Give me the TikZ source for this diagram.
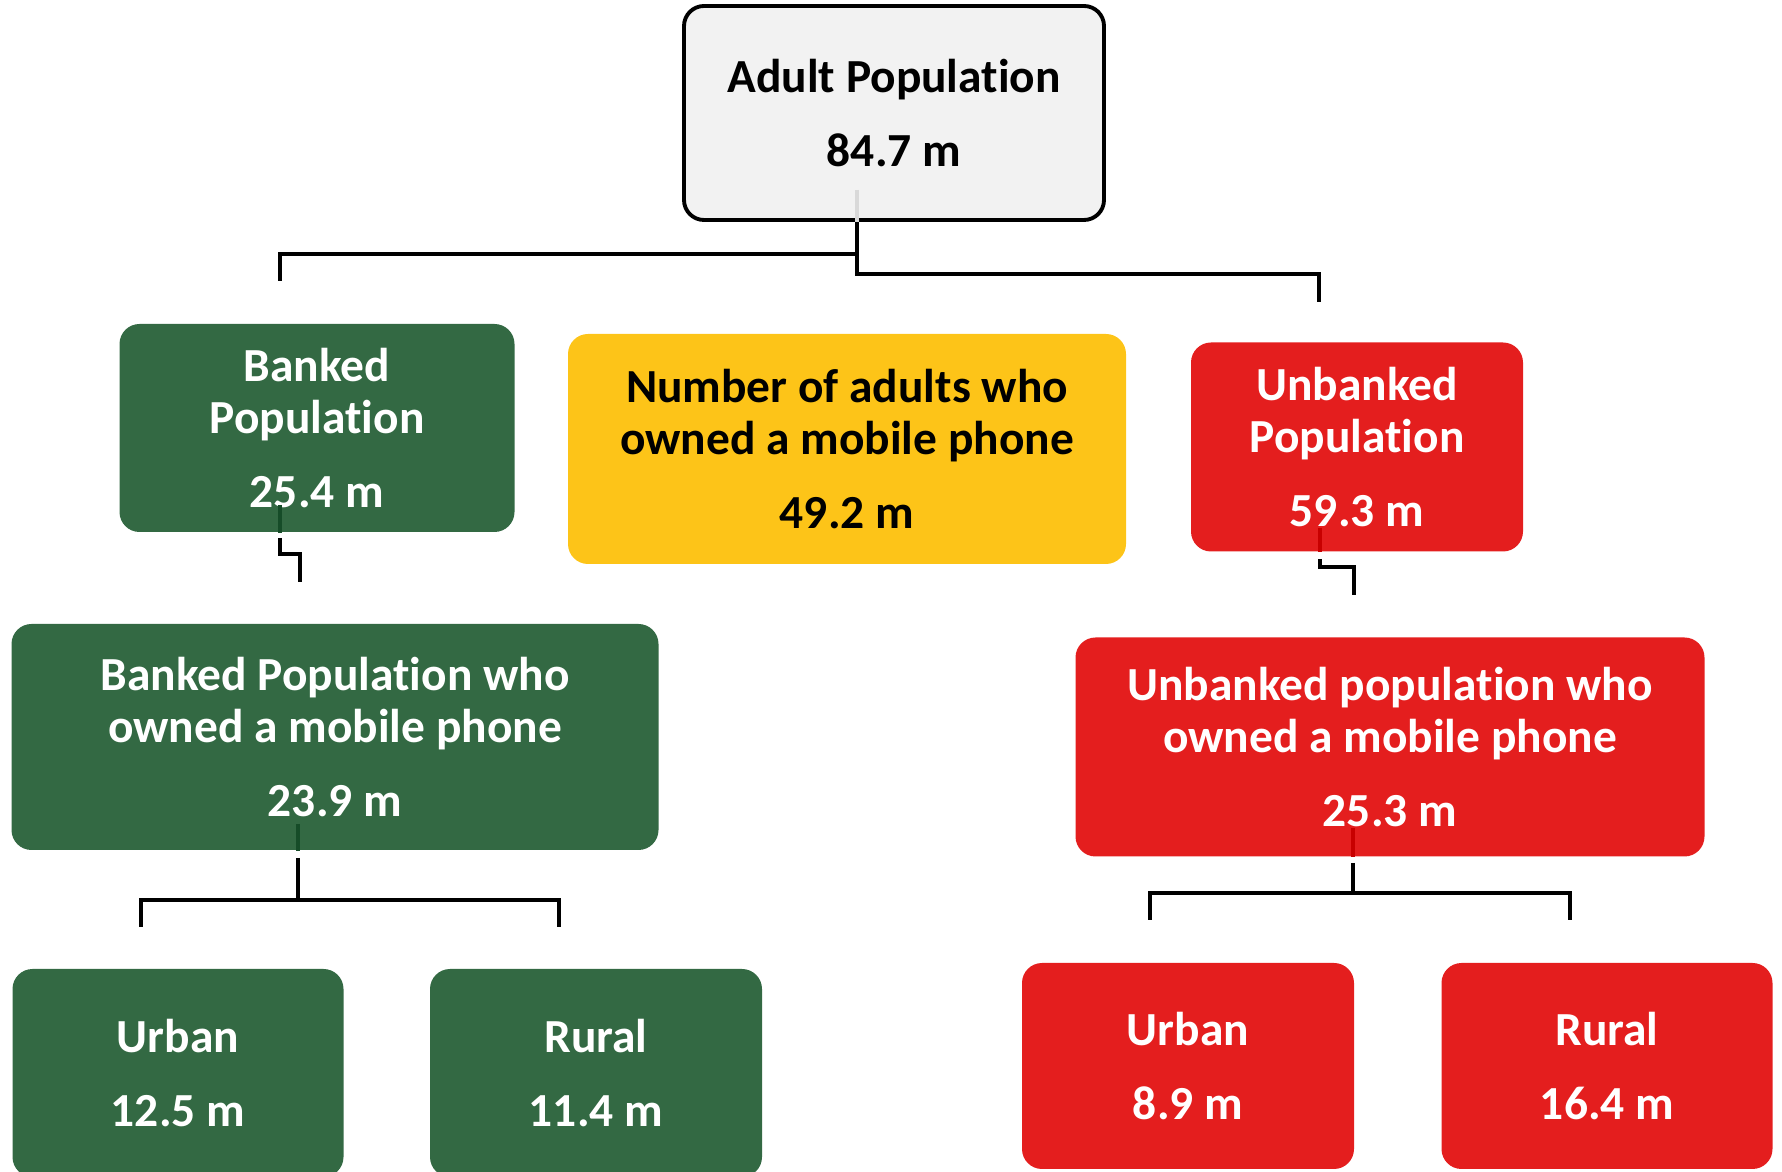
\documentclass[tikz,border=0pt]{standalone}
\usepackage{fontspec}
\setmainfont{Carlito}[Ligatures=NoCommon]
\usepackage{tikz}
\usetikzlibrary{positioning}
\definecolor{bankgreen}{RGB}{51,105,67}
\definecolor{bankgreend}{RGB}{22,76,40}
\definecolor{unbankred}{RGB}{228,30,30}
\definecolor{unbankredd}{RGB}{200,0,0}
\definecolor{phoneyellow}{RGB}{253,196,24}
\definecolor{topgrey}{RGB}{242,242,242}
\tikzset{
    box/.style = {rectangle, rounded corners=2mm, align=center,
                  font=\fontsize{13.5}{14.8}\selectfont\bfseries},
    topbox/.style = {box, draw=black, line width=1.1pt, fill=topgrey, text=black},
    greenbox/.style = {box, fill=bankgreen, text=white},
    redbox/.style = {box, fill=unbankred, text=white},
    yellowbox/.style = {box, fill=phoneyellow, text=black},
    link/.style = {line width=1.2pt, black},
    stub/.style = {line width=1.2pt}
}
\begin{document}
\begin{tikzpicture}[x=0.1mm, y=-0.1mm]
  \useasboundingbox (0,0) rectangle (1782,1172);

  % boxes
  \node[topbox, minimum width=42mm, minimum height=21.4mm] (adult) at (894,113)
    {Adult Population\\[6pt]84.7 m};
  \node[greenbox, minimum width=39.5mm, minimum height=20.8mm] (banked) at (317,428)
    {Banked\\Population\\[6pt]25.4 m};
  \node[yellowbox, minimum width=55.8mm, minimum height=23mm] (phone) at (847,449)
    {Number of adults who\\owned a mobile phone\\[6pt]49.2 m};
  \node[redbox, minimum width=33.2mm, minimum height=20.9mm] (unbanked) at (1357,447)
    {Unbanked\\Population\\[6pt]59.3 m};
  \node[greenbox, minimum width=64.7mm, minimum height=22.6mm] (bankmob) at (335,737)
    {Banked Population who\\owned a mobile phone\\[6pt]23.9 m};
  \node[redbox, minimum width=62.9mm, minimum height=21.9mm] (unbankmob) at (1390,747)
    {Unbanked population who\\owned a mobile phone\\[6pt]25.3 m};
  \node[greenbox, minimum width=33.1mm, minimum height=20.8mm] (burban) at (178,1073)
    {Urban\\[6pt]12.5 m};
  \node[greenbox, minimum width=33.2mm, minimum height=20.8mm] (brural) at (596,1073)
    {Rural\\[6pt]11.4 m};
  \node[redbox, minimum width=33.2mm, minimum height=20.6mm] (uurban) at (1188,1066)
    {Urban\\[6pt]8.9 m};
  \node[redbox, minimum width=33.1mm, minimum height=20.6mm] (urural) at (1607,1066)
    {Rural\\[6pt]16.4 m};

  % joints
  \coordinate (a1) at (857,190);
  \coordinate (a2) at (857,222);
  \coordinate (a3) at (857,254);
  \coordinate (aL) at (280,281);
  \coordinate (aR) at (1319,302);
  \coordinate (b1) at (280,505);
  \coordinate (b2) at (280,538);
  \coordinate (bE) at (300,582);
  \coordinate (u1) at (1320,528);
  \coordinate (u2) at (1320,559);
  \coordinate (uE) at (1354,595);
  \coordinate (m1) at (298,824);
  \coordinate (m2) at (298,858);
  \coordinate (mH) at (298,900);
  \coordinate (mL) at (141,927);
  \coordinate (mR) at (559,927);
  \coordinate (n1) at (1353,828);
  \coordinate (n2) at (1353,863);
  \coordinate (nH) at (1353,893);
  \coordinate (nL) at (1150,920);
  \coordinate (nR) at (1570,920);

  % connectors
  \draw[stub, black!15] (a1) -- (adult.south -| a1);
  \draw[link] (a2) |- (aR |- 0,274) -- (aR);
  \draw[link] (a3) -| (aL);
  \draw[stub, bankgreend] (b1) -- (banked.south -| b1);
  \draw[link] (b2) |- (bE |- 0,554) -- (bE);
  \draw[stub, unbankredd] (u1) -- (unbanked.south -| u1);
  \draw[link] (u2) |- (uE |- 0,567) -- (uE);
  \draw[stub, bankgreend] (m1) -- (bankmob.south -| m1);
  \draw[link] (m2) -- (mH);
  \draw[link] (mL) |- (mR |- mH) -- (mR);
  \draw[stub, unbankredd] (n1) -- (unbankmob.south -| n1);
  \draw[link] (n2) -- (nH);
  \draw[link] (nL) |- (nR |- nH) -- (nR);
\end{tikzpicture}
\end{document}
